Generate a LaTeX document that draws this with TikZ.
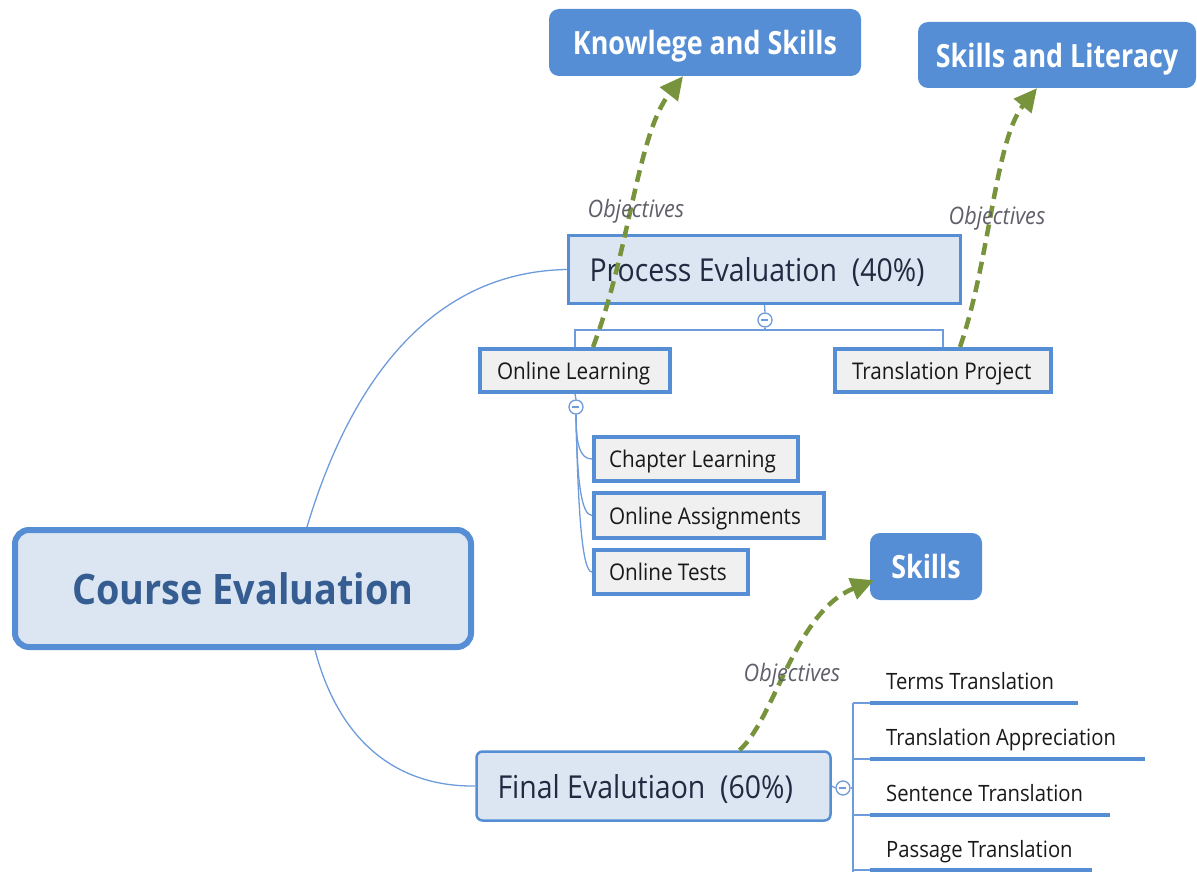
\documentclass[tikz,border=0pt]{standalone}
\usepackage{fontspec}
\setmainfont{Open Sans}[FakeStretch=0.9]
\newfontfamily\titlefont{Open Sans}[FakeStretch=0.84]
\usetikzlibrary{arrows.meta}
\definecolor{bord}{RGB}{85,142,213}
\definecolor{pale}{RGB}{220,230,242}
\definecolor{greyf}{RGB}{240,240,240}
\definecolor{conn}{RGB}{110,155,218}
\definecolor{olive}{RGB}{119,147,60}
\definecolor{roottext}{RGB}{54,93,145}
\definecolor{navy}{RGB}{32,42,64}
\definecolor{labelgrey}{RGB}{95,95,105}
\definecolor{leaftext}{RGB}{25,25,25}
\newcommand{\lbox}[2]{\makebox[#1][l]{#2}}
\begin{document}
\begin{tikzpicture}[x=1pt,y=-1pt,
  root/.style={draw=bord, line width=6pt, fill=pale, rounded corners=14pt,
    minimum width=456pt, minimum height=117pt, inner sep=0pt,
    font=\fontsize{42}{48}\selectfont\bfseries, text=roottext},
  mainbox/.style={draw=bord, line width=3pt, fill=pale, inner sep=0pt,
    text depth=0pt, font=\fontsize{31.6}{36}\selectfont, text=navy},
  leafbox/.style={draw=bord, line width=4pt, fill=greyf, inner sep=0pt,
    text depth=0pt, font=\fontsize{23}{26}\selectfont, text=leaftext},
  goal/.style={fill=bord, rounded corners=10pt, inner sep=0pt, text=white, text depth=0pt,
    font=\titlefont\bfseries\fontsize{32}{36}\selectfont},
  link/.style={draw=conn, line width=1.3pt},
  objarrow/.style={draw=olive, line width=4.5pt, dash pattern=on 12pt off 7pt,
    -{Triangle[length=23pt,width=22pt]}},
  objlab/.style={font=\itshape\fontsize{24}{26}\selectfont, text=labelgrey},
  toggle/.style={circle, draw=conn, line width=1.3pt, fill=white,
    minimum size=14pt, inner sep=0pt},
  subtext/.style={anchor=base west, inner sep=0pt,
    font=\fontsize{22.5}{26}\selectfont, text=leaftext},
  underl/.style={draw=bord, line width=4pt},
]
\useasboundingbox (0,0) rectangle (1197,872);

% goals
\node[goal, minimum width=312pt, minimum height=67pt] (ks) at (705,42.5) {Knowlege and Skills};
\node[goal, minimum width=278pt, minimum height=66pt] (sl) at (1057,55) {Skills and Literacy};
\node[goal, minimum width=112pt, minimum height=67pt] (sk) at (926,566.5) {Skills};

% root
\node[root] (ce) at (243,588.5) {Course Evaluation};

% process
\node[mainbox, minimum width=392pt, minimum height=68pt] (pe) at (764.5,269.5) {\lbox{350pt}{Process Evaluation\ \ (40\%)}};
\node[leafbox, minimum width=190pt, minimum height=43pt] (ol) at (575,370.5) {\lbox{156pt}{Online Learning}};
\node[leafbox, minimum width=216pt, minimum height=43pt] (tp) at (943,370.5) {\lbox{182pt}{Translation Project}};
\node[leafbox, minimum width=204pt, minimum height=44pt] (cl) at (696,459) {\lbox{174pt}{Chapter Learning}};
\node[leafbox, minimum width=230pt, minimum height=45pt] (oa) at (709,515.5) {\lbox{200pt}{Online Assignments}};
\node[leafbox, minimum width=154pt, minimum height=44pt] (ot) at (671,572) {\lbox{124pt}{Online Tests}};

% final
\node[mainbox, rounded corners=6pt, line width=2.5pt, minimum width=354pt, minimum height=69pt] (fe) at (653.5,786) {\lbox{312pt}{Final Evalutiaon\ \ (60\%)}};

% toggles
\node[toggle] (tg1) at (765,320) {};
\draw[conn, line width=1.3pt] (tg1.west)++(3.5pt,0) -- ++(7pt,0);
\node[toggle] (tg2) at (576,407) {};
\draw[conn, line width=1.3pt] (tg2.west)++(3.5pt,0) -- ++(7pt,0);
\node[toggle] (tg3) at (843,788) {};
\draw[conn, line width=1.3pt] (tg3.west)++(3.5pt,0) -- ++(7pt,0);

% connectors
\draw[link] (ce.north) ++(64pt,0) .. controls (345,400) and (420,272) .. (pe.west);
\draw[link] (ce.south) ++(72pt,0) .. controls (340,745) and (400,787) .. (fe.west);
\draw[link] (pe.south) -- (tg1.north);
\draw[link] (tg1.south) -- (765,330);
\draw[link] (ol.north) -- (575,330) -| (tp.north);
\draw[link] (ol.south) -- (tg2.north);
\draw[link] (tg2.south) .. controls (576,445) and (580,459) .. (cl.west);
\draw[link] (tg2.south) .. controls (577,480) and (581,515) .. (oa.west);
\draw[link] (tg2.south) .. controls (578,510) and (582,572) .. (ot.west);
\draw[link] (fe.east) -- (tg3.west);

% final sub-items
\coordinate (vtop) at (853,703);
\coordinate (vbot) at (853,872);
\draw[link] (tg3.east) -- (853,788);
\draw[link] (vtop) -- (vbot);
\coordinate (u1) at (870,703);
\coordinate (u2) at (870,759);
\coordinate (u3) at (870,815);
\coordinate (u4) at (870,870);
\node[subtext] (t1) at (886,689) {Terms Translation};
\node[subtext] (t2) at (886,745) {Translation Appreciation};
\node[subtext] (t3) at (886,801) {Sentence Translation};
\node[subtext] (t4) at (886,857) {Passage Translation};
\draw[link] (vtop) -- (u1);
\draw[link] (853,759) -- (u2);
\draw[link] (853,815) -- (u3);
\draw[link] (853,870) -- (u4);
\draw[underl] (u1) -- (1078,703);
\draw[underl] (u2) -- (1145,759);
\draw[underl] (u3) -- (1110,815);
\draw[underl] (u4) -- (1092,870);

% objectives arrows
\draw[objarrow] ([xshift=18pt]ol.north) .. controls (630,250) and (637,135) .. ([xshift=-22pt]ks.south);
\draw[objarrow] ([xshift=17pt]tp.north) .. controls (990,260) and (995,140) .. ([xshift=-20pt]sl.south);
\draw[objarrow] ([xshift=86pt]fe.north) .. controls (775,718) and (795,612) .. ([xshift=-52pt,yshift=20pt]sk.south);

\node[objlab] (l1) at (636,211) {Objectives};
\node[objlab] (l2) at (997,218) {Objectives};
\node[objlab] (l3) at (792,675) {Objectives};
\end{tikzpicture}
\end{document}
